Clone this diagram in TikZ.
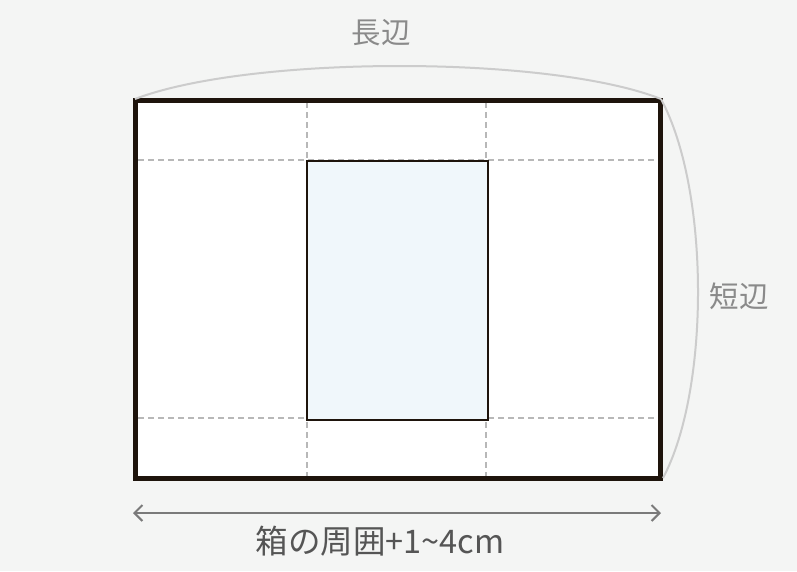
\documentclass[tikz,border=0pt]{standalone}
\usepackage{fontspec}
\newfontfamily\jp{Noto Sans CJK JP}
\usetikzlibrary{arrows.meta}
\definecolor{bg}{HTML}{F4F5F4}
\definecolor{frame}{HTML}{1E140C}
\definecolor{inner}{HTML}{F0F7FB}
\definecolor{dash}{HTML}{B8B8B8}
\definecolor{arc}{HTML}{CCCCCC}
\definecolor{lbl}{HTML}{8A8A8A}
\definecolor{arr}{HTML}{7A7A7A}
\definecolor{txt}{HTML}{555555}
\tikzset{
  guide/.style={draw=dash, line width=2pt, dash pattern=on 6pt off 4pt},
  sidearc/.style={draw=arc, line width=2pt},
  sidelabel/.style={font=\jp\fontsize{29.5}{32}\selectfont, text=lbl, inner sep=0pt},
}
\begin{document}
\begin{tikzpicture}[x=1pt,y=-1pt]
\fill[bg] (0,0) rectangle (797,571);
\useasboundingbox (0,0) rectangle (797,571);
% outer sheet
\node[fill=white, draw=none, minimum width=525pt, minimum height=378pt, inner sep=0pt, anchor=north west] (sheet) at (135,100) {};
% guides
\draw[guide] (307,102) -- (307,476);
\draw[guide] (486,102) -- (486,476);
\draw[guide] (138,160) -- (657,160);
\draw[guide] (138,418) -- (657,418);
% inner box
\node[fill=inner, draw=frame, line width=2pt, minimum width=181pt, minimum height=259pt, inner sep=0pt, anchor=north west] (box) at (306,160) {};
% outer frame
\draw[frame, line width=5pt] (sheet.north west) rectangle (sheet.south east);
% arcs
\coordinate (tl) at (135,99);
\coordinate (tr) at (661,99);
\coordinate (br) at (663,478);
\draw[sidearc] (tl) .. controls (250,55) and (550,55) .. (tr);
\draw[sidearc] (tr) .. controls (710,190) and (710,390) .. (br);
% labels
\node[sidelabel] (long) at (381,33) {長辺};
\node[sidelabel] (short) at (739,296) {短辺};
% width arrow
\coordinate (al) at (133,513);
\coordinate (ar) at (661,513);
\draw[arr, line width=2pt, {Straight Barb[length=8pt,width=16pt]}-{Straight Barb[length=8pt,width=16pt]}] (al) -- (ar);
\node[font=\jp\fontsize{32.5}{35}\selectfont, text=txt, inner sep=0pt] (wlabel) at (380,541) {箱の周囲+1\textasciitilde4cm};
\end{tikzpicture}
\end{document}
